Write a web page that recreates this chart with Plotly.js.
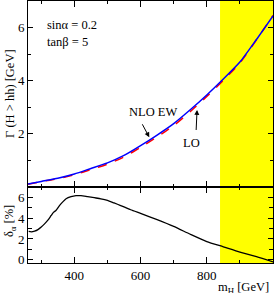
<!DOCTYPE html>
<html><head><meta charset="utf-8">
<script src="https://cdn.plot.ly/plotly-3.0.1.min.js"></script>
<style>html,body{margin:0;padding:0;background:#fff}#plot{width:274px;height:293px}</style>
</head><body><div id="plot"></div>
<script>
// Higgs mass grid [GeV] for widths
const mH = [260,300,350,400,450,500,550,600,650,700,750,800,850,900,950,1000];
// Gamma(H->hh) NLO EW [GeV]
const gammaNLO = [0.10,0.20,0.32,0.48,0.69,0.90,1.18,1.55,1.95,2.38,2.90,3.46,4.06,4.70,5.55,6.44];
// Gamma(H->hh) LO [GeV]
const gammaLO = [0.097,0.194,0.305,0.452,0.651,0.851,1.123,1.484,1.878,2.306,2.831,3.400,4.010,4.665,5.533,6.453];
// relative correction grid
const mHdelta = [262,270,280,290,300,310,320,330,337,345,355,365,375,390,405,420,440,460,480,500,520,540,570,600,650,700,750,800,850,900,950,1000];
const deltaAlpha = [2.72,2.68,2.75,2.9,3.15,3.45,3.8,4.25,4.55,4.75,5.2,5.55,5.85,6.05,6.15,6.15,6.05,5.95,5.85,5.7,5.45,5.2,4.8,4.45,3.85,3.2,2.45,1.75,1.25,0.75,0.3,-0.2];
// excluded region
const bandX = [840,1000];
const xTicks = [400,600,800];
const yTicksTop = [2,4,6];
const yTicksBot = [0,2,4,6];

const F = 'Liberation Serif, Times New Roman, serif';
const traces = [
  {x:mH, y:gammaLO, xaxis:'x2', yaxis:'y2', mode:'lines', line:{color:'#ff0000', width:1.5, dash:'dash', shape:'spline', smoothing:0.6}, hoverinfo:'skip'},
  {x:mH, y:gammaNLO, xaxis:'x2', yaxis:'y2', mode:'lines', line:{color:'#0000ff', width:1.5, shape:'spline', smoothing:0.6}, hoverinfo:'skip'},
  {x:mHdelta, y:deltaAlpha, xaxis:'x', yaxis:'y', mode:'lines', line:{color:'#000000', width:1.3, shape:'spline', smoothing:0.6}, hoverinfo:'skip'}
];
const axCommon = {showgrid:false, zeroline:false, showline:true, linecolor:'#000', linewidth:1, mirror:'ticks', ticks:'inside', tickcolor:'#000', tickwidth:1, tickfont:{family:F, size:13, color:'#000'}};
const layout = {
  width:274, height:293, margin:{l:28, r:1, t:1, b:30},
  paper_bgcolor:'#fff', plot_bgcolor:'rgba(0,0,0,0)', showlegend:false,
  font:{family:F, color:'#000'},
  xaxis: Object.assign({}, axCommon, {domain:[0,1], anchor:'y', range:[260,1000], tickvals:xTicks, ticklen:6, ticklabelstandoff:0,
    minor:{dtick:100, tick0:0, ticks:'inside', ticklen:3, tickcolor:'#000'}}),
  yaxis: Object.assign({}, axCommon, {domain:[0,0.291], anchor:'x', range:[-0.3,7], tickvals:yTicksBot, ticklen:5,
    minor:{dtick:1, tick0:0, ticks:'inside', ticklen:4, tickcolor:'#000'}}),
  xaxis2: Object.assign({}, axCommon, {domain:[0,1], anchor:'y2', range:[260,1000], tickvals:xTicks, ticklen:6, showticklabels:false, matches:'x',
    minor:{dtick:100, tick0:0, ticks:'inside', ticklen:3, tickcolor:'#000'}}),
  yaxis2: Object.assign({}, axCommon, {domain:[0.291,1], anchor:'x2', range:[0,7], tickvals:yTicksTop, ticklen:5,
    minor:{dtick:1, tick0:0, ticks:'inside', ticklen:3, tickcolor:'#000'}}),
  shapes:[{type:'rect', xref:'x', yref:'paper', x0:bandX[0], x1:bandX[1], y0:0, y1:1, fillcolor:'#ffff00', line:{width:0}, layer:'below'}],
  annotations:[
    {text:'Γ (H > hh) [GeV]', xref:'paper', yref:'paper', x:-0.0735, y:0.649, textangle:-90, showarrow:false, font:{family:F, size:12.5}, xanchor:'center', yanchor:'middle'},
    {text:'δ<sub>α</sub> [%]', xref:'paper', yref:'paper', x:-0.0735, y:0.16, textangle:-90, showarrow:false, font:{family:F, size:12.5}, xanchor:'center', yanchor:'middle'},
    {text:'m<sub>H</sub> [GeV]', xref:'paper', yref:'paper', x:0.99, y:-0.096, showarrow:false, font:{family:F, size:12.5}, xanchor:'right', yanchor:'middle'},
    {text:'sinα = 0.2', xref:'paper', yref:'paper', x:0.069, y:0.908, showarrow:false, font:{family:F, size:12.5}, xanchor:'left', yanchor:'middle'},
    {text:'tanβ = 5', xref:'paper', yref:'paper', x:0.069, y:0.8435, showarrow:false, font:{family:F, size:12.5}, xanchor:'left', yanchor:'middle'},
    {text:'NLO EW', xref:'paper', yref:'paper', x:(153-28)/245, y:1-(112-1)/262, showarrow:false, font:{family:F, size:12.5}, xanchor:'center', yanchor:'middle'},
    {text:' ', xref:'paper', yref:'paper', x:0.495, y:0.4798, showarrow:true, ax:-8, ay:-15, arrowhead:2, arrowsize:1, arrowwidth:1, arrowcolor:'#000', font:{size:1}},
    {text:'LO', xref:'paper', yref:'paper', x:(191-28)/245, y:1-(143-1)/262, showarrow:false, font:{family:F, size:12.5}, xanchor:'center', yanchor:'middle'},
    {text:' ', xref:'paper', yref:'paper', x:0.690, y:0.584, showarrow:true, ax:-1, ay:22, arrowhead:2, arrowsize:1, arrowwidth:1, arrowcolor:'#000', font:{size:1}}
  ]
};
Plotly.newPlot('plot', traces, layout, {staticPlot:true, displayModeBar:false});
</script></body></html>
